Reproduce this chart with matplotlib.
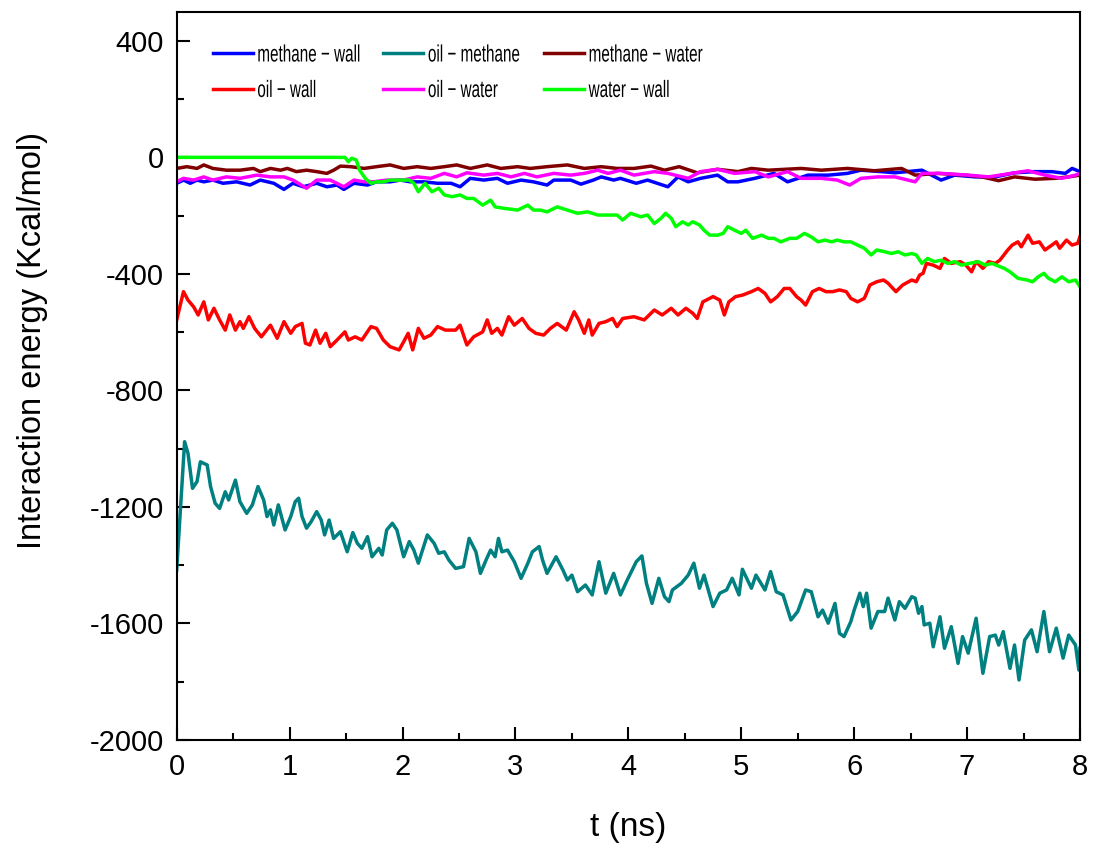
import matplotlib
matplotlib.use("Agg")
import matplotlib.pyplot as plt
from matplotlib.ticker import MultipleLocator
from matplotlib.legend import Legend
from matplotlib import patheffects
from matplotlib.transforms import Affine2D

plt.rcParams['font.family'] = ['Liberation Sans', 'DejaVu Sans']
plt.rcParams['axes.unicode_minus'] = False

# ---------------- data ----------------
labels = ["methane \u2212 wall", "oil \u2212 methane", "methane \u2212 water",
          "oil \u2212 wall", "oil \u2212 water", "water \u2212 wall"]
colors = ["#0000FF", "#008080", "#800000", "#FF0000", "#FF00FF", "#00FF00"]

methane_wall_t = [0, 0.06, 0.12, 0.18, 0.24, 0.32, 0.41, 0.53, 0.65, 0.74, 0.86, 0.95, 1.03, 1.12, 1.24, 1.33, 1.42, 1.48, 1.57, 1.69, 1.77, 1.89, 1.98, 2.07, 2.19, 2.31, 2.43, 2.51, 2.60, 2.72, 2.84, 2.93, 3.05, 3.16, 3.28, 3.34, 3.49, 3.58, 3.69, 3.76, 3.87, 3.93, 4.07, 4.17, 4.35, 4.44, 4.53, 4.64, 4.79, 4.88, 4.97, 5.12, 5.29, 5.41, 5.59, 5.77, 5.94, 6.06, 6.24, 6.36, 6.60, 6.77, 6.89, 7.07, 7.25, 7.42, 7.60, 7.75, 7.87, 7.93, 8.00]
methane_wall_v = [-89, -78, -89, -78, -84, -78, -89, -84, -95, -78, -89, -110, -89, -101, -89, -101, -95, -110, -89, -95, -84, -84, -78, -84, -84, -89, -89, -101, -72, -78, -72, -89, -78, -84, -95, -78, -78, -92, -78, -67, -78, -72, -89, -78, -101, -67, -84, -72, -61, -84, -84, -72, -55, -84, -61, -61, -55, -44, -49, -53, -44, -78, -61, -67, -67, -53, -49, -49, -55, -38, -49]

oil_methane_t = [0, 0.07, 0.10, 0.14, 0.18, 0.21, 0.27, 0.30, 0.34, 0.38, 0.43, 0.46, 0.49, 0.52, 0.56, 0.62, 0.67, 0.72, 0.77, 0.80, 0.83, 0.86, 0.90, 0.96, 1.01, 1.05, 1.08, 1.11, 1.15, 1.19, 1.24, 1.28, 1.31, 1.35, 1.39, 1.45, 1.51, 1.56, 1.60, 1.64, 1.69, 1.73, 1.79, 1.82, 1.86, 1.91, 1.95, 2.01, 2.06, 2.10, 2.14, 2.22, 2.28, 2.32, 2.37, 2.41, 2.47, 2.54, 2.59, 2.65, 2.69, 2.74, 2.78, 2.82, 2.85, 2.88, 2.93, 2.99, 3.05, 3.11, 3.15, 3.21, 3.24, 3.28, 3.36, 3.42, 3.46, 3.50, 3.55, 3.62, 3.68, 3.74, 3.80, 3.87, 3.93,
                 3.99, 4.07, 4.12, 4.16, 4.21, 4.27, 4.32, 4.36, 4.39, 4.47, 4.53, 4.58, 4.63, 4.67, 4.75, 4.81, 4.87, 4.92, 4.98, 5.01, 5.09, 5.13, 5.21, 5.26, 5.31, 5.37, 5.44, 5.50, 5.57, 5.62, 5.68, 5.72, 5.77, 5.83, 5.87, 5.91, 5.97, 6.00, 6.05, 6.08, 6.11, 6.15, 6.21, 6.27, 6.30, 6.36, 6.40, 6.45, 6.51, 6.54, 6.57, 6.60, 6.62, 6.67, 6.70, 6.76, 6.80, 6.86, 6.92, 6.96, 7.01, 7.08, 7.14, 7.20, 7.25, 7.28, 7.32, 7.38, 7.42, 7.46, 7.51, 7.57, 7.62, 7.68, 7.73, 7.79, 7.85, 7.90, 7.96, 7.99, 8.00]
oil_methane_v = [-1416, -976, -1016, -1136, -1113, -1045, -1056, -1130, -1187, -1205, -1148, -1176, -1142, -1108, -1182, -1222, -1193, -1130, -1176, -1233, -1210, -1262, -1193, -1279, -1233, -1182, -1170, -1233, -1273, -1251, -1216, -1245, -1296, -1245, -1308, -1285, -1354, -1288, -1325, -1342, -1302, -1371, -1342, -1365, -1279, -1256, -1279, -1371, -1319, -1348, -1393, -1296, -1325, -1359, -1354, -1382, -1411, -1405, -1308, -1354, -1428, -1382, -1348, -1371, -1308, -1354, -1348, -1388, -1445, -1393, -1354, -1336, -1382, -1428, -1371, -1416, -1451, -1434, -1491, -1468, -1502, -1388, -1496, -1428, -1502,
                 -1451, -1388, -1368, -1462, -1531, -1445, -1508, -1525, -1485, -1462, -1434, -1393, -1479, -1434, -1542, -1496, -1485, -1445, -1502, -1414, -1479, -1434, -1485, -1422, -1491, -1502, -1588, -1559, -1485, -1491, -1577, -1554, -1599, -1531, -1634, -1645, -1594, -1554, -1496, -1542, -1496, -1616, -1559, -1559, -1513, -1588, -1525, -1548, -1508, -1513, -1565, -1542, -1605, -1599, -1680, -1577, -1685, -1611, -1737, -1645, -1702, -1582, -1771, -1645, -1640, -1674, -1628, -1754, -1674, -1794, -1657, -1622, -1697, -1559, -1697, -1616, -1719, -1640, -1674, -1760, -1685]

methane_water_t = [0, 0.09, 0.18, 0.24, 0.32, 0.44, 0.56, 0.68, 0.74, 0.83, 0.92, 0.98, 1.06, 1.15, 1.24, 1.33, 1.39, 1.45, 1.54, 1.66, 1.77, 1.89, 2.01, 2.13, 2.25, 2.37, 2.48, 2.60, 2.75, 2.87, 3.02, 3.13, 3.28, 3.46, 3.61, 3.76, 3.90, 4.05, 4.20, 4.32, 4.45, 4.61, 4.79, 4.97, 5.09, 5.24, 5.53, 5.71, 5.94, 6.18, 6.42, 6.54, 6.74, 6.98, 7.13, 7.28, 7.42, 7.60, 7.78, 7.90, 8.00]
methane_water_v = [-38, -32, -38, -26, -38, -44, -44, -38, -49, -38, -44, -38, -49, -44, -49, -55, -44, -30, -32, -38, -32, -26, -38, -32, -38, -32, -26, -38, -26, -38, -32, -38, -32, -26, -38, -32, -38, -38, -30, -44, -32, -53, -41, -49, -38, -44, -38, -44, -38, -46, -38, -61, -55, -61, -67, -80, -67, -75, -72, -67, -61]

oil_wall_t = [0, 0.06, 0.10, 0.15, 0.19, 0.24, 0.28, 0.33, 0.38, 0.43, 0.47, 0.52, 0.56, 0.59, 0.64, 0.69, 0.75, 0.83, 0.89, 0.95, 1.01, 1.05, 1.11, 1.14, 1.18, 1.23, 1.27, 1.32, 1.36, 1.42, 1.49, 1.52, 1.58, 1.64, 1.72, 1.77, 1.83, 1.89, 1.97, 2.01, 2.05, 2.09, 2.14, 2.19, 2.25, 2.31, 2.38, 2.47, 2.51, 2.57, 2.63, 2.71, 2.75, 2.79, 2.84, 2.88, 2.94, 2.99, 3.06, 3.12, 3.18, 3.25, 3.31, 3.37, 3.45, 3.52, 3.56, 3.61, 3.65, 3.68, 3.74, 3.80, 3.86, 3.90, 3.95,
              4.05, 4.14, 4.23, 4.30, 4.38, 4.44, 4.51, 4.57, 4.61, 4.66, 4.75, 4.81, 4.85, 4.89, 4.95, 5.01, 5.09, 5.15, 5.21, 5.26, 5.32, 5.38, 5.43, 5.49, 5.53, 5.57, 5.63, 5.69, 5.75, 5.81, 5.87, 5.93, 5.97, 6.03, 6.09, 6.14, 6.20, 6.26, 6.30, 6.37, 6.43, 6.51, 6.55, 6.58, 6.61, 6.64, 6.70, 6.76, 6.80, 6.86, 6.94, 6.99, 7.04, 7.08, 7.14, 7.19, 7.25, 7.29, 7.36, 7.40, 7.45, 7.48, 7.54, 7.58, 7.64, 7.69, 7.73, 7.79, 7.82, 7.88, 7.93, 7.98, 8.00]
oil_wall_v = [-558, -461, -490, -513, -541, -496, -558, -518, -558, -593, -541, -593, -564, -587, -547, -587, -616, -576, -621, -564, -604, -581, -570, -638, -644, -593, -638, -604, -650, -627, -599, -627, -616, -627, -581, -587, -627, -650, -661, -633, -604, -661, -587, -621, -610, -581, -593, -593, -576, -644, -616, -599, -558, -604, -587, -610, -547, -576, -553, -587, -604, -610, -587, -570, -593, -530, -558, -604, -558, -610, -570, -564, -553, -581, -553,
              -547, -558, -524, -541, -518, -541, -518, -535, -553, -496, -478, -490, -541, -496, -478, -473, -461, -450, -467, -496, -478, -450, -450, -478, -490, -507, -461, -450, -461, -461, -455, -461, -484, -496, -484, -438, -427, -421, -432, -461, -438, -421, -427, -404, -398, -364, -370, -381, -347, -364, -358, -370, -393, -358, -381, -358, -364, -353, -318, -301, -290, -307, -267, -295, -290, -318, -307, -290, -312, -284, -301, -295, -272]

oil_water_t = [0, 0.06, 0.15, 0.24, 0.32, 0.44, 0.56, 0.71, 0.83, 0.95, 1.03, 1.15, 1.24, 1.36, 1.48, 1.57, 1.66, 1.74, 1.86, 2.01, 2.13, 2.25, 2.37, 2.48, 2.57, 2.72, 2.84, 2.96, 3.08, 3.19, 3.34, 3.49, 3.61, 3.73, 3.82, 3.93, 4.05, 4.23, 4.35, 4.53, 4.64, 4.79, 4.94, 5.12, 5.24, 5.41, 5.53, 5.71, 5.85, 5.96, 6.06, 6.21, 6.36, 6.54, 6.60, 6.77, 7.01, 7.19, 7.39, 7.54, 7.69, 7.84, 7.96, 8.00]
oil_water_v = [-84, -72, -78, -67, -78, -67, -72, -61, -67, -67, -78, -106, -78, -78, -101, -78, -84, -84, -78, -78, -67, -72, -55, -67, -53, -61, -55, -67, -55, -67, -55, -61, -55, -44, -55, -44, -61, -49, -55, -72, -49, -41, -55, -49, -67, -49, -72, -72, -78, -95, -72, -67, -67, -84, -55, -55, -61, -67, -55, -46, -61, -72, -61, -55]

water_wall_t = [0, 1.49, 1.52, 1.55, 1.59, 1.62, 1.67, 1.72, 1.77, 1.83, 1.89, 1.98, 2.06, 2.10, 2.14, 2.20, 2.26, 2.32, 2.37, 2.44, 2.51, 2.57, 2.63, 2.71, 2.78, 2.82, 2.90, 3.02, 3.11, 3.16, 3.22, 3.28, 3.37, 3.46, 3.55, 3.64, 3.73, 3.82, 3.90, 3.95, 4.02, 4.11, 4.17, 4.23, 4.29, 4.33, 4.38, 4.42, 4.48, 4.53, 4.57, 4.63, 4.67, 4.72, 4.79, 4.84, 4.88, 4.94, 5.00, 5.04, 5.10, 5.18, 5.24, 5.29, 5.35, 5.43, 5.49, 5.56, 5.62, 5.68, 5.74, 5.80, 5.85, 5.91, 5.97, 6.03, 6.09, 6.15, 6.20, 6.27, 6.33, 6.39, 6.45, 6.51, 6.55, 6.60, 6.65, 6.71, 6.77, 6.83, 6.89, 6.95, 7.02, 7.10, 7.16, 7.22, 7.29, 7.33, 7.38, 7.45, 7.53, 7.58, 7.63, 7.68, 7.72, 7.78, 7.84, 7.90, 7.96, 8.00]
water_wall_v = [0, 0, -15, -3, -9, -44, -72, -89, -84, -84, -78, -78, -78, -89, -118, -89, -118, -106, -129, -135, -129, -141, -141, -164, -147, -170, -175, -181, -164, -181, -181, -187, -170, -181, -192, -187, -198, -198, -198, -215, -192, -204, -198, -227, -209, -192, -209, -238, -221, -232, -221, -232, -250, -267, -267, -261, -238, -250, -261, -250, -278, -267, -278, -278, -290, -278, -278, -261, -273, -290, -284, -290, -284, -290, -290, -301, -312, -335, -318, -324, -330, -324, -335, -330, -335, -364, -347, -358, -353, -364, -358, -370, -364, -358, -370, -364, -375, -381, -393, -415, -421, -427, -410, -398, -415, -427, -410, -427, -421, -444]

x_ticks = [0, 1, 2, 3, 4, 5, 6, 7, 8]
y_ticks = [-2000, -1600, -1200, -800, -400, 0, 400]

series = [
    (methane_wall_t, methane_wall_v),
    (oil_methane_t, oil_methane_v),
    (methane_water_t, methane_water_v),
    (oil_wall_t, oil_wall_v),
    (oil_water_t, oil_water_v),
    (water_wall_t, water_wall_v),
]
for t, v in series:
    assert len(t) == len(v), (len(t), len(v))


class Squeeze(patheffects.AbstractPathEffect):
    """Horizontally condense text glyphs (legend text in the reference is narrow)."""
    def __init__(self, sx):
        super().__init__()
        self.sx = sx

    def draw_path(self, renderer, gc, tpath, affine, rgbFace=None):
        renderer.draw_path(gc, tpath, Affine2D().scale(self.sx, 1.0) + affine, rgbFace)


# ---------------- figure ----------------
W, H = 1093, 846
fig = plt.figure(figsize=(W / 100, H / 100), dpi=100)
ax = fig.add_axes([176.7 / W, 1 - 740 / H, (1080 - 176.7) / W, (740 - 11.7) / H])

handles = []
for (t, v), lab, col in zip(series, labels, colors):
    ln, = ax.plot(t, v, color=col, lw=2.5, label=lab, solid_joinstyle='round')
    handles.append(ln)

ax.set_xlim(0, 8)
ax.set_ylim(-2000, 500)
ax.set_xticks(x_ticks)
ax.set_yticks(y_ticks)
ax.xaxis.set_minor_locator(MultipleLocator(0.5))
ax.yaxis.set_minor_locator(MultipleLocator(200))
ax.tick_params(which='both', direction='in', top=False, right=False, width=1.5)
ax.tick_params(which='major', length=9.5, labelsize=21, pad=9)
ax.tick_params(which='minor', length=5)
for s in ax.spines.values():
    s.set_linewidth(1.5)

ax.set_xlabel("t (ns)", fontsize=24)
ax.set_ylabel("Interaction energy (Kcal/mol)", fontsize=23.5)
ax.xaxis.set_label_coords(0.5, -0.099)
ax.yaxis.set_label_coords(-0.142, 0.549)

# legend: three columns placed individually
col_x = [212.7, 383.3, 544.0]
pairs = [(0, 3), (1, 4), (2, 5)]
for cx, (a, b) in zip(col_x, pairs):
    lg = Legend(ax, [handles[a], handles[b]], [labels[a], labels[b]],
                loc='upper left', bbox_to_anchor=(cx / W, 1 - 44.5 / H),
                bbox_transform=fig.transFigure, frameon=False,
                borderpad=0, borderaxespad=0, handlelength=1.69,
                handletextpad=0.20, labelspacing=0.57, fontsize=17)
    for txt in lg.get_texts():
        txt.set_path_effects([Squeeze(0.646)])
    ax.add_artist(lg)

fig.savefig("out.png", dpi=100)
